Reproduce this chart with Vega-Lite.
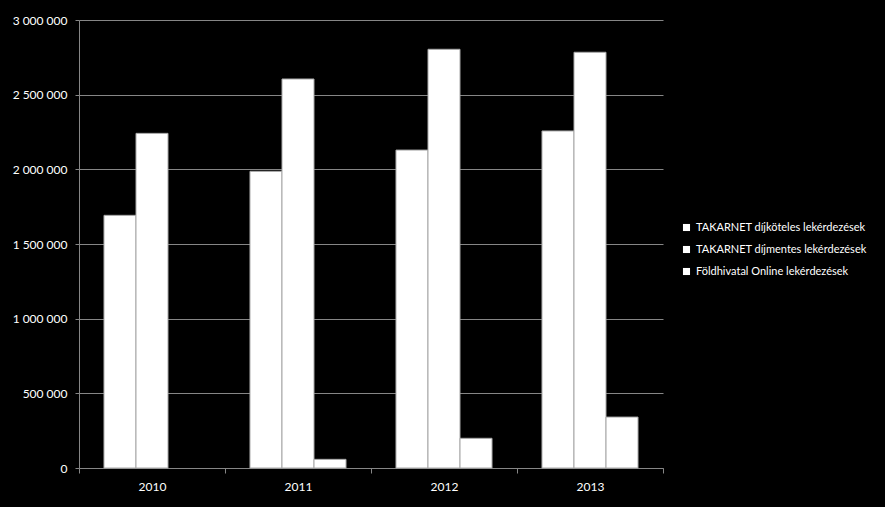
{
  "$schema": "https://vega.github.io/schema/vega-lite/v6.json",
  "width": 584,
  "height": 448,
  "autosize": {"type": "none"},
  "padding": {"left": 79, "top": 20, "right": 222, "bottom": 39},
  "background": "#000000",
  "config": {
    "view": {"stroke": null},
    "font": "Lato",
    "locale": {"number": {"decimal": ",", "thousands": " ", "grouping": [3], "currency": ["", ""]}}
  },
  "data": {
    "values": [
      {"year": "2010", "series": "TAKARNET díjköteles lekérdezések", "value": 1692000},
      {"year": "2010", "series": "TAKARNET díjmentes lekérdezések", "value": 2241000},
      {"year": "2011", "series": "TAKARNET díjköteles lekérdezések", "value": 1987000},
      {"year": "2011", "series": "TAKARNET díjmentes lekérdezések", "value": 2605000},
      {"year": "2011", "series": "Földhivatal Online lekérdezések", "value": 58000},
      {"year": "2012", "series": "TAKARNET díjköteles lekérdezések", "value": 2129000},
      {"year": "2012", "series": "TAKARNET díjmentes lekérdezések", "value": 2804000},
      {"year": "2012", "series": "Földhivatal Online lekérdezések", "value": 199000},
      {"year": "2013", "series": "TAKARNET díjköteles lekérdezések", "value": 2257000},
      {"year": "2013", "series": "TAKARNET díjmentes lekérdezések", "value": 2784000},
      {"year": "2013", "series": "Földhivatal Online lekérdezések", "value": 341000}
    ]
  },
  "mark": {"type": "bar", "stroke": "#a6a6a6", "strokeWidth": 1},
  "encoding": {
    "x": {
      "field": "year", "type": "nominal",
      "scale": {"paddingInner": 0, "paddingOuter": 0},
      "axis": {
        "title": null, "labelAngle": 0, "labelColor": "#ffffff", "labelFontSize": 12,
        "labelPadding": 8, "tickBand": "extent", "tickColor": "#868686", "tickSize": 5,
        "domainColor": "#868686", "grid": false
      }
    },
    "xOffset": {
      "field": "series", "type": "nominal",
      "sort": ["TAKARNET díjköteles lekérdezések", "TAKARNET díjmentes lekérdezések", "Földhivatal Online lekérdezések"],
      "scale": {"paddingInner": 0, "paddingOuter": 0.78}
    },
    "y": {
      "field": "value", "type": "quantitative",
      "scale": {"domain": [0, 3000000], "nice": false},
      "axis": {
        "title": null, "values": [0, 500000, 1000000, 1500000, 2000000, 2500000, 3000000],
        "format": ",d", "labelColor": "#ffffff", "labelFontSize": 12, "labelPadding": 8,
        "tickColor": "#868686", "tickSize": 4, "domainColor": "#868686",
        "gridColor": "#868686", "gridWidth": 1
      }
    },
    "color": {
      "field": "series", "type": "nominal",
      "sort": ["TAKARNET díjköteles lekérdezések", "TAKARNET díjmentes lekérdezések", "Földhivatal Online lekérdezések"],
      "scale": {"range": ["#ffffff", "#ffffff", "#ffffff"]},
      "legend": {
        "title": null, "orient": "none", "legendX": 602, "legendY": 202,
        "symbolType": "square", "symbolSize": 50, "symbolStrokeWidth": 0,
        "labelColor": "#ffffff", "labelFontSize": 11, "rowPadding": 10, "labelLimit": 300
      }
    }
  }
}
